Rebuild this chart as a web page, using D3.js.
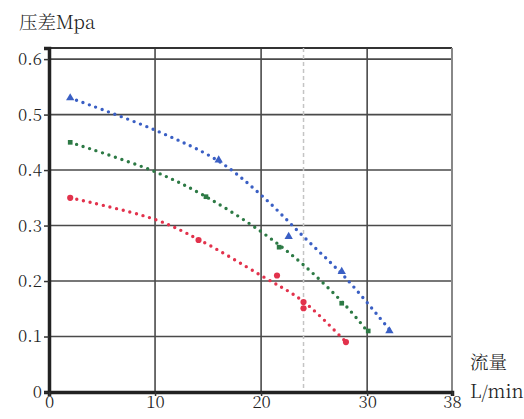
<!DOCTYPE html>
<html>
<head>
<meta charset="utf-8">
<script src="https://cdn.jsdelivr.net/npm/d3@7"></script>
<style>
  body { margin: 0; background: #fff; }
</style>
</head>
<body>
<svg id="draw"></svg>
<script>
// tick values
var xTicks = [0, 10, 20, 30, 38];
var yTicks = [0, 0.1, 0.2, 0.3, 0.4, 0.5, 0.6];

// measured points (markers)
var bluePts = [[2, 0.53], [16, 0.418], [22.6, 0.28], [27.6, 0.217], [32.1, 0.11]];
var greenPts = [[2, 0.45], [14.8, 0.352], [21.7, 0.261], [27.6, 0.16], [30.1, 0.11]];
var redPts = [[2, 0.35], [14.1, 0.274], [21.5, 0.21], [24, 0.162], [24, 0.151], [28, 0.09]];

// dotted trend curves
var blueFit = [[2, 0.53], [10, 0.472], [16, 0.416], [20, 0.355], [24, 0.28], [28, 0.205], [32.2, 0.11]];
var greenFit = [[2, 0.45], [10, 0.397], [14.8, 0.352], [20, 0.289], [24, 0.229], [28, 0.155], [30, 0.11]];
var redFit = [[2, 0.35], [10, 0.311], [14, 0.276], [20, 0.21], [24, 0.163], [28, 0.09]];

var refX = 24;

var FONT = "'Noto Serif CJK SC', 'Liberation Serif', serif";

var width = 524, height = 419;
var margin = { top: 48, right: 72, bottom: 27, left: 49 };
var w = width - margin.left - margin.right;
var h = height - margin.top - margin.bottom;

var svg = d3.select("#draw").attr("width", width).attr("height", height);
var g = svg.append("g").attr("transform", "translate(" + margin.left + "," + margin.top + ")");

var xScale = d3.scaleLinear().domain([0, 38]).range([0, w]);
var yScale = d3.scaleLinear().domain([0, 0.62]).range([h, 0]);

// grid
g.selectAll(".hgrid").data(yTicks.slice(1)).enter().append("line")
  .attr("x1", 0).attr("x2", w)
  .attr("y1", function(d) { return yScale(d); })
  .attr("y2", function(d) { return yScale(d); })
  .attr("stroke", "#4a4a4a").attr("stroke-width", 1.6);

g.selectAll(".vgrid").data([10, 20, 30]).enter().append("line")
  .attr("x1", function(d) { return xScale(d); })
  .attr("x2", function(d) { return xScale(d); })
  .attr("y1", 0).attr("y2", h)
  .attr("stroke", "#4a4a4a").attr("stroke-width", 1.6);

// top and right border
g.append("line").attr("x1", 0).attr("x2", w).attr("y1", 0).attr("y2", 0)
  .attr("stroke", "#333").attr("stroke-width", 1.8);
g.append("line").attr("x1", w).attr("x2", w).attr("y1", 0).attr("y2", h)
  .attr("stroke", "#888").attr("stroke-width", 2);

// reference dashed line
g.append("line")
  .attr("x1", xScale(refX)).attr("x2", xScale(refX))
  .attr("y1", 0).attr("y2", h)
  .attr("stroke", "#c4c4c4").attr("stroke-width", 1.5)
  .attr("stroke-dasharray", "4,3");

// axes
var yAxis = g.append("g")
  .call(d3.axisLeft(yScale).tickValues(yTicks).tickSize(5).tickPadding(2)
    .tickFormat(function(d) { return d === 0 ? "0" : d3.format(".1f")(d); }));
var xAxis = g.append("g")
  .attr("transform", "translate(0," + h + ")")
  .call(d3.axisBottom(xScale).tickValues(xTicks).tickSize(4).tickPadding(0));

[yAxis, xAxis].forEach(function(a) {
  a.attr("font-family", null);
  a.select(".domain").attr("stroke", "#222").attr("stroke-width", 3.5);
  a.selectAll(".tick line").attr("stroke", "#333").attr("stroke-width", 1.5);
  a.selectAll(".tick text")
    .style("font-family", FONT).style("font-size", "17px")
    .style("font-weight", 300).attr("fill", "#222");
});

// series
var series = [
  { fit: blueFit, pts: bluePts, color: "#3a5fc4", shape: d3.symbolTriangle },
  { fit: greenFit, pts: greenPts, color: "#2d7a45", shape: d3.symbolSquare },
  { fit: redFit, pts: redPts, color: "#e2324c", shape: d3.symbolCircle }
];

var line = d3.line()
  .x(function(d) { return xScale(d[0]); })
  .y(function(d) { return yScale(d[1]); })
  .curve(d3.curveCatmullRom.alpha(0.5));

series.forEach(function(s) {
  g.append("path")
    .datum(s.fit)
    .attr("d", line)
    .attr("fill", "none")
    .attr("stroke", s.color)
    .attr("stroke-width", 3.4)
    .attr("stroke-linecap", "round")
    .attr("stroke-dasharray", "0,6.8");

  g.selectAll(null).data(s.pts).enter().append("path")
    .attr("d", d3.symbol().type(s.shape).size(s.shape === d3.symbolSquare ? 22 : 30))
    .attr("transform", function(d) {
      return "translate(" + xScale(d[0]) + "," + yScale(d[1]) + ")";
    })
    .attr("fill", s.color);
});

// labels
function label(x, y, t) {
  svg.append("text").attr("x", x).attr("y", y)
    .style("font-family", FONT).style("font-size", "18.5px")
    .style("font-weight", 300).attr("fill", "#222").text(t);
}
label(19, 29, "压差Mpa");
label(470, 369, "流量");
label(470, 398, "L/min");
</script>
</body>
</html>
